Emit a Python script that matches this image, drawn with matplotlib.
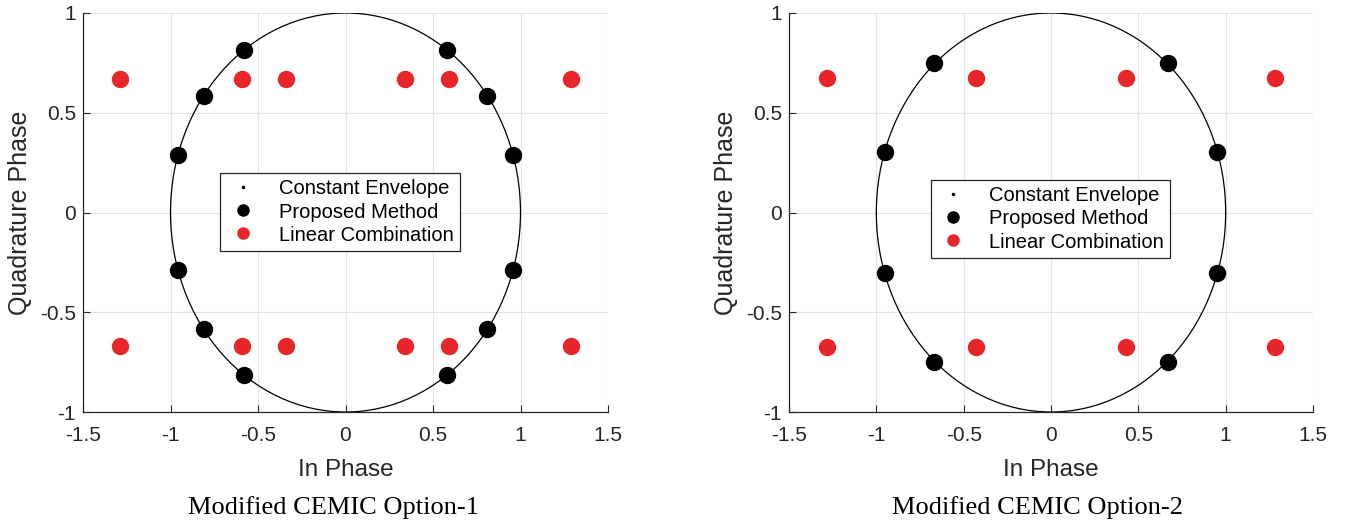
import matplotlib
matplotlib.use("Agg")
import matplotlib.pyplot as plt
from matplotlib.patches import Circle
from matplotlib.lines import Line2D

# ---- data ----
envelope_radius = 1.0

opt1_proposed_x = [0.58, 0.81, 0.957, 0.957, 0.81, 0.58, -0.58, -0.81, -0.957, -0.957, -0.81, -0.58]
opt1_proposed_y = [0.815, 0.585, 0.29, -0.29, -0.585, -0.815, 0.815, 0.585, 0.29, -0.29, -0.585, -0.815]
opt1_linear_x = [-1.29, -0.59, -0.34, 0.34, 0.59, 1.29, -1.29, -0.59, -0.34, 0.34, 0.59, 1.29]
opt1_linear_y = [0.667, 0.667, 0.667, 0.667, 0.667, 0.667, -0.667, -0.667, -0.667, -0.667, -0.667, -0.667]

opt2_proposed_x = [0.667, 0.95, 0.95, 0.667, -0.667, -0.95, -0.95, -0.667]
opt2_proposed_y = [0.75, 0.305, -0.305, -0.75, 0.75, 0.305, -0.305, -0.75]
opt2_linear_x = [-1.28, -0.43, 0.43, 1.28, -1.28, -0.43, 0.43, 1.28]
opt2_linear_y = [0.675, 0.675, 0.675, 0.675, -0.675, -0.675, -0.675, -0.675]

x_ticks = [-1.5, -1, -0.5, 0, 0.5, 1, 1.5]
x_ticklabels = ["-1.5", "-1", "-0.5", "0", "0.5", "1", "1.5"]
y_ticks = [-1, -0.5, 0, 0.5, 1]
y_ticklabels = ["-1", "-0.5", "0", "0.5", "1"]

legend_labels = ["Constant Envelope", "Proposed Method", "Linear Combination"]
captions = ["Modified CEMIC Option-1", "Modified CEMIC Option-2"]

RED = "#e8262a"
DARK = "#262626"
SANS = "Liberation Sans"
W, H = 1347, 524

fig = plt.figure(figsize=(W / 100, H / 100), dpi=100)
ax_px = [(83, 13, 525, 399), (789, 13, 524, 399)]
legend_px = [(222, 171, 236, 82), (932, 177, 237, 84)]
caption_cx = [333, 1038]

datasets = [
    (opt1_proposed_x, opt1_proposed_y, opt1_linear_x, opt1_linear_y),
    (opt2_proposed_x, opt2_proposed_y, opt2_linear_x, opt2_linear_y),
]

for i, (px, py, lx, ly) in enumerate(datasets):
    x0, y0, w, h = ax_px[i]
    ax = fig.add_axes([x0 / W, 1 - (y0 + h) / H, w / W, h / H])
    ax.add_patch(Circle((0, 0), envelope_radius, fill=False, edgecolor="black", linewidth=0.9, zorder=2))
    ax.plot(px, py, linestyle="none", marker="o", color="black", markersize=11.5, zorder=3)
    ax.plot(lx, ly, linestyle="none", marker="o", color=RED, markersize=11.5, zorder=3)
    ax.set_xlim(-1.5, 1.5)
    ax.set_ylim(-1, 1)
    ax.set_xticks(x_ticks)
    ax.set_xticklabels(x_ticklabels, fontsize=15, family=SANS, color=DARK)
    ax.set_yticks(y_ticks)
    ax.set_yticklabels(y_ticklabels, fontsize=15, family=SANS, color=DARK)
    ax.tick_params(direction="in", length=5, width=0.8, colors=DARK, labelcolor=DARK)
    ax.tick_params(axis="x", pad=10)
    ax.tick_params(axis="y", pad=5)
    ax.grid(True, color="#e3e3e3", linewidth=0.8, zorder=0)
    ax.set_axisbelow(True)
    for s in ["top", "right"]:
        ax.spines[s].set_visible(False)
    for s in ["left", "bottom"]:
        ax.spines[s].set_color(DARK)
        ax.spines[s].set_linewidth(0.9)
    ax.set_xlabel("In Phase", fontsize=17.5, family=SANS, color=DARK, labelpad=10)
    ax.set_ylabel("Quadrature Phase", fontsize=18, family=SANS, color=DARK, labelpad=6)

    handles = [
        Line2D([], [], linestyle="none", marker=".", color="black", markersize=3),
        Line2D([], [], linestyle="none", marker="o", color="black", markersize=8),
        Line2D([], [], linestyle="none", marker="o", color=RED, markersize=8),
    ]
    lx0, ly0, lw, lh = legend_px[i]
    bbox = (lx0 / W, 1 - (ly0 + lh) / H, lw / W, lh / H)
    leg = fig.legend(handles, legend_labels, loc="center", bbox_to_anchor=bbox,
                     prop={"family": SANS, "size": 14.5}, frameon=True, fancybox=False,
                     edgecolor=DARK, framealpha=1, handlelength=1.6, handletextpad=1.0,
                     labelspacing=0.2, borderpad=0.3)
    leg.get_frame().set_linewidth(0.9)

    fig.text(caption_cx[i] / W, 1 - 508 / H, captions[i], ha="center", va="center",
             fontsize=19, family="Liberation Serif", color="black")

fig.savefig("out.png", dpi=100)
